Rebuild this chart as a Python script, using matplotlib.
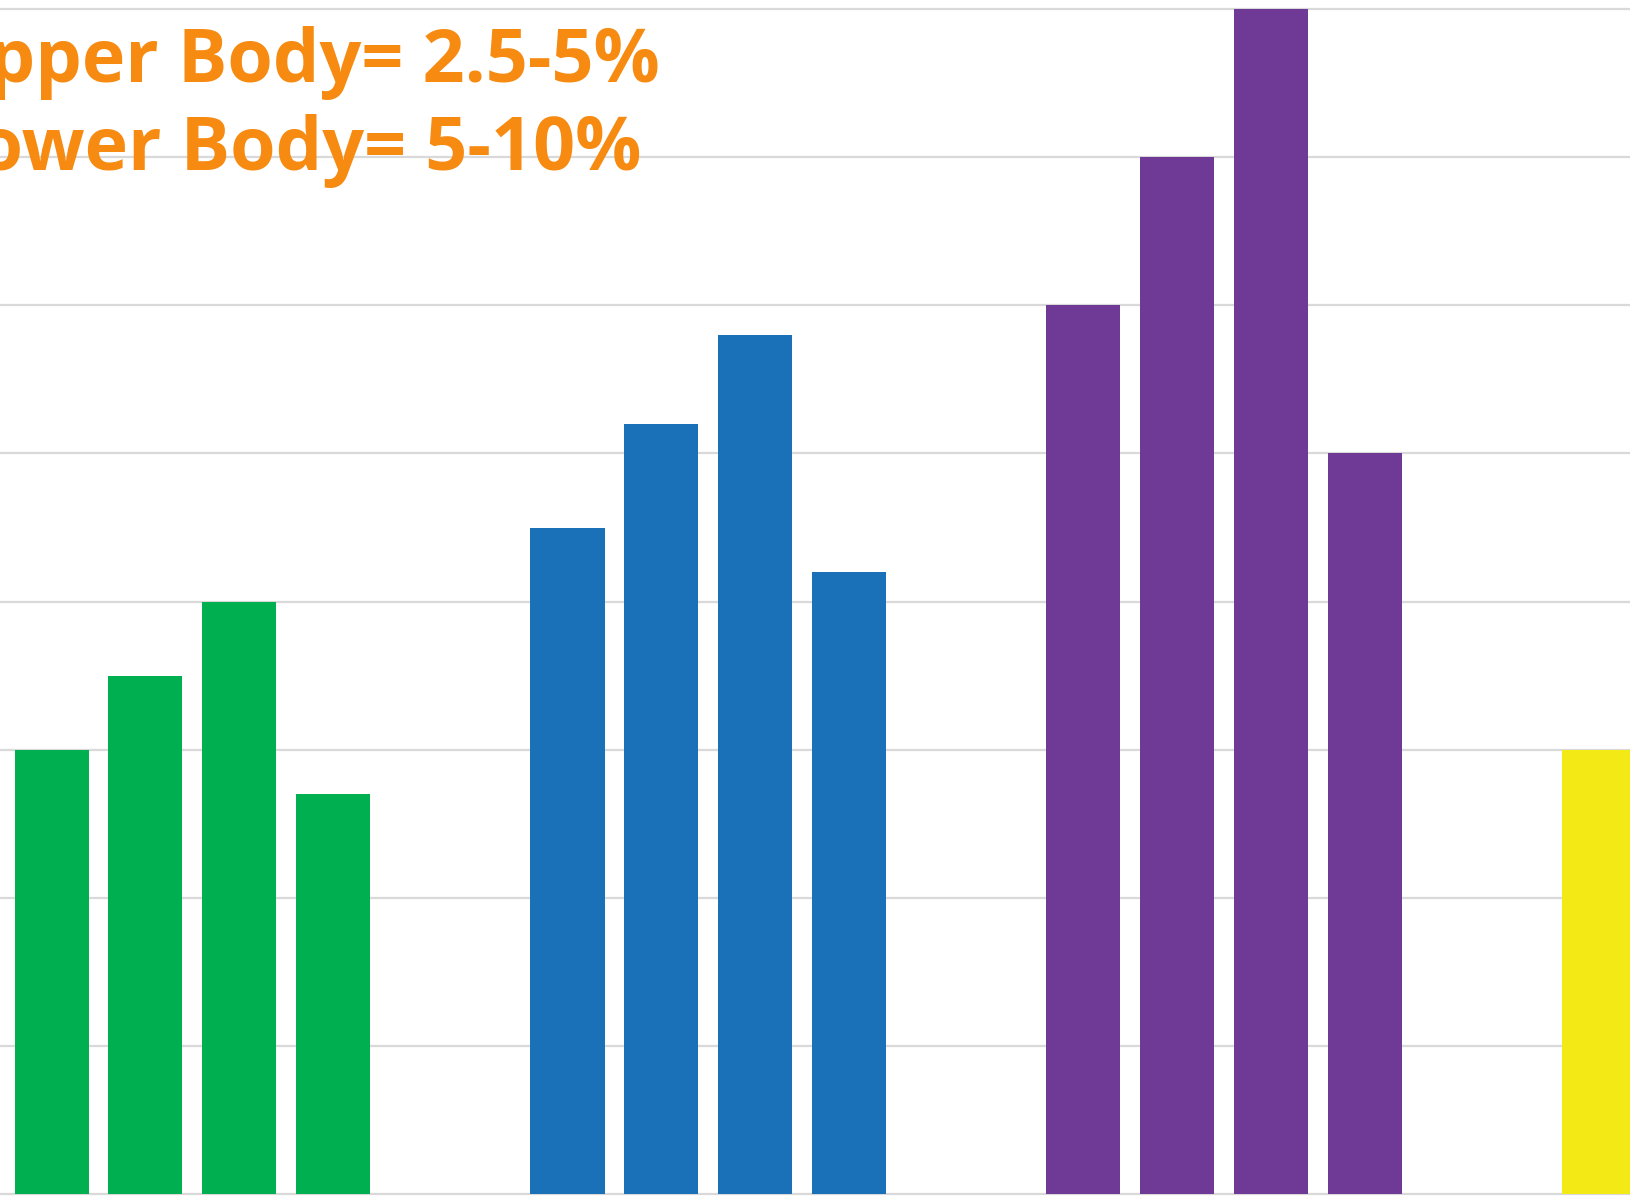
import matplotlib
matplotlib.use("Agg")
import matplotlib.pyplot as plt

# Body-fat ranges by group, four bars per group
groups = ["Green", "Blue", "Purple", "Yellow"]
green_vals = [3.0, 3.5, 4.0, 2.7]
blue_vals = [4.5, 5.2, 5.8, 4.2]
purple_vals = [6.0, 7.0, 8.0, 5.0]
yellow_vals = [3.0]
group_colors = ["#00B050", "#1B71B8", "#6F3996", "#F3E914"]
note_lines = ["Upper Body= 2.5-5%", "Lower Body= 5-10%"]
grid_levels = [0, 1, 2, 3, 4, 5, 6, 7, 8]

W, H = 1630, 1196
fig = plt.figure(figsize=(W / 100, H / 100), dpi=100)
ax = fig.add_axes([0, 0, 1, 1])

group_step = 5.5
bar_w = 0.79
all_vals = [green_vals, blue_vals, purple_vals, yellow_vals]
for g, (vals, col) in enumerate(zip(all_vals, group_colors)):
    xs = [g * group_step + j for j in range(len(vals))]
    ax.bar(xs, vals, width=bar_w, color=col, zorder=3, linewidth=0)

for lvl in grid_levels:
    ax.axhline(lvl, color="#d9d9d9", lw=1.6, zorder=1)

ax.set_xlim(-0.55, -0.55 + W / 93.8)
ax.set_ylim(-0.012, 8 + 9 / 148.4)
ax.axis("off")

# Annotation in the upper left corner
orange = "#F78A10"
fig.text(660 / W, 1 - 82 / H, note_lines[0], ha="right", va="baseline",
         fontsize=53, fontweight="bold", family="Open Sans", color=orange)
fig.text(641 / W, 1 - 170 / H, note_lines[1], ha="right", va="baseline",
         fontsize=53, fontweight="bold", family="Open Sans", color=orange)

fig.savefig("out.png", dpi=100, facecolor="white")
